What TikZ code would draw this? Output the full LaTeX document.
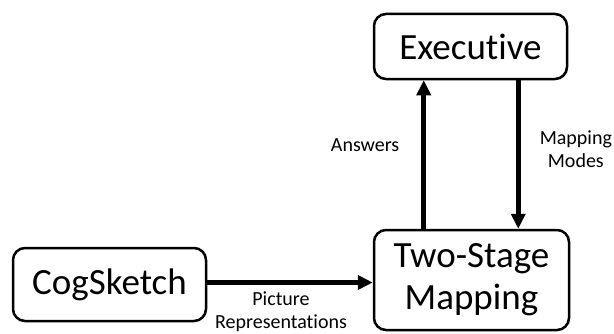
\documentclass[tikz,border=0pt]{standalone}
\usepackage{fontspec}
\setmainfont{Carlito}[Ligatures=NoCommon]
\usetikzlibrary{arrows.meta,positioning}
\begin{document}
\begin{tikzpicture}[x=1pt,y=1pt,
    block/.style={draw, line width=2.5pt, rounded corners=12pt, align=center, inner sep=0pt,
                  font=\fontsize{37}{42}\selectfont},
    flow/.style={line width=5pt, -{Triangle[length=15pt,width=14pt]}},
    note/.style={inner sep=0pt, align=center, font=\fontsize{20}{23}\selectfont}]
    \useasboundingbox (0,0) rectangle (614,333);
    \node[block, minimum width=193pt, minimum height=65pt] (exec) at (470.5,286.5) {Executive};
    \node[block, minimum width=195pt, minimum height=100pt] (mapping) at (471.5,53) {Two-Stage\\Mapping};
    \node[block, minimum width=193pt, minimum height=73pt] (cog) at (109.5,48.5) {CogSketch};
    % up and down between mapping and executive
    \coordinate (upfoot) at ([xshift=51pt]mapping.north west);
    \coordinate (downtop) at ([xshift=-50pt]exec.south east);
    \draw[flow] (upfoot) -- (upfoot |- exec.south)
        node[note, midway, left=22pt, yshift=9pt] {Answers};
    \draw[flow] (downtop) -- (downtop |- mapping.north)
        node[note, midway, right=19pt, yshift=5pt] {Mapping\\Modes};
    % sketch into mapping
    \coordinate (sketchout) at ([yshift=2pt]cog.east);
    \draw[flow] (sketchout) -- (sketchout -| mapping.west)
        node[note, midway, below=7pt, xshift=-9pt] {Picture\\Representations};
\end{tikzpicture}
\end{document}
